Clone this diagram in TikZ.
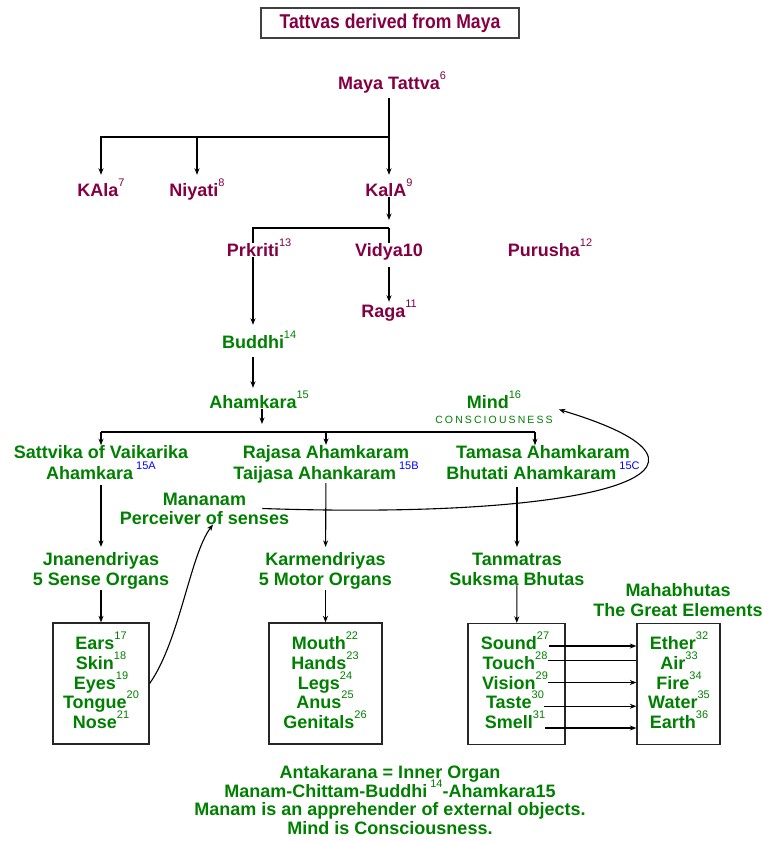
\documentclass[tikz,border=0pt]{standalone}
\usepackage{fontspec}
\setmainfont{Liberation Sans}
\newfontfamily\narrowfont[FakeStretch=0.88]{Liberation Sans}
\usepackage{xcolor}
\usetikzlibrary{arrows.meta, positioning, calc}
\definecolor{mayared}{RGB}{133,0,66}
\definecolor{tgreen}{RGB}{0,128,0}
\definecolor{supblue}{RGB}{0,0,255}
\newcommand{\sups}[1]{\smash{\raisebox{10pt}{\fontsize{11}{11}\selectfont\mdseries #1}}}
\newcommand{\rsups}[1]{\rlap{\sups{#1}}}
\newcommand{\bsups}[1]{\,\sups{\color{supblue}#1}}
\tikzset{
  lbl/.style={inner sep=0pt, font=\fontsize{18}{20}\selectfont\bfseries, text height=13pt, text depth=0pt},
  mlbl/.style={inner sep=0pt, font=\fontsize{18}{20}\selectfont\bfseries, align=center},
  mayatxt/.style={text=mayared},
  gunatxt/.style={text=tgreen},
  ln/.style={line width=1.1pt},
  arr/.style={ln, -{Stealth[length=6.5pt,width=5pt]}},
  organbox/.style={draw=black!85, line width=1.3pt, minimum width=#1, minimum height=121pt, inner sep=0pt}
}
\begin{document}
\begin{tikzpicture}[x=1pt, y=-1pt]
\useasboundingbox (0,0) rectangle (761,842);
\node[draw=black!75, line width=1.2pt, minimum width=258pt, minimum height=30pt, inner sep=0pt, text=mayared, font=\narrowfont\fontsize{20}{20}\selectfont\bfseries] (title) at (390,23) {Tattvas derived from Maya};

\node[lbl, mayatxt] (maya) at (389,83) {Maya Tattva\rsups{6}};
\node[lbl, mayatxt] (kala) at (101,190) {KAla\sups{7}};
\node[lbl, mayatxt] (niyati) at (197,190) {Niyati\sups{8}};
\node[lbl, mayatxt] (kalaa) at (389,190) {KalA\sups{9}};
\node[lbl, mayatxt] (prkriti) at (253,250) {Prkriti\rsups{13}};
\node[lbl, mayatxt] (vidya) at (389,250) {Vidya10};
\node[lbl, mayatxt] (purusha) at (550,250) {Purusha\sups{12}};
\node[lbl, mayatxt] (raga) at (389,311) {Raga\sups{11}};
\node[lbl, gunatxt] (buddhi) at (253,342) {Buddhi\rsups{14}};
\node[lbl, gunatxt] (ahamkara) at (253,402) {Ahamkara\rsups{15}};
\node[mlbl, gunatxt] (mind) at (494,409.5) {Mind\sups{16}\\[-5.5pt]{\fontsize{10.5}{12}\selectfont\mdseries\addfontfeature{LetterSpace=20}CONSCIOUSNESS}};

\node[mlbl, gunatxt] (sattvika) at (101,462.5) {Sattvika of Vaikarika\\[1pt]Ahamkara\bsups{15A}};
\node[mlbl, gunatxt] (rajasa) at (326,464) {Rajasa Ahamkaram\\[1pt]Taijasa Ahankaram\bsups{15B}};
\node[mlbl, gunatxt] (tamasa) at (543,462.5) {Tamasa Ahamkaram\\[1pt]Bhutati Ahamkaram\bsups{15C}};
\node[mlbl, gunatxt] (mananam) at (204.5,508.5) {Mananam\\[-1pt]Perceiver of senses};
\node[mlbl, gunatxt] (jnan) at (101,571) {Jnanendriyas\\5 Sense Organs};
\node[mlbl, gunatxt] (karm) at (325.5,571) {Karmendriyas\\5 Motor Organs};
\node[mlbl, gunatxt] (tanm) at (517,569) {Tanmatras\\Suksma Bhutas};
\node[mlbl, gunatxt] (maha) at (678,600) {Mahabhutas\\The Great Elements};

\node[organbox=96pt] (box1) at (101,683.5) {};
\node[organbox=113pt] (box2) at (325.5,683.5) {};
\node[organbox=97pt] (box3) at (516.5,684) {};
\node[organbox=83pt] (box4) at (678.5,684) {};
\foreach \name/\txt/\num [count=\i] in {ears/Ears/17, skin/Skin/18, eyes/Eyes/19, tongue/Tongue/20, nose/Nose/21}
  \node[lbl, gunatxt] (\name) at (101,{623.25+19.75*\i}) {\txt\sups{\num}};
\foreach \name/\txt/\num [count=\i] in {mouth/Mouth/22, hands/Hands/23, legs/Legs/24, anus/Anus/25, genitals/Genitals/26}
  \node[lbl, gunatxt] (\name) at (325,{623.25+19.75*\i}) {\txt\sups{\num}};
\foreach \name/\txt/\num [count=\i] in {sound/Sound/27, touch/Touch/28, vision/Vision/29, taste/Taste/30, smell/Smell/31}
  \node[lbl, gunatxt] (\name) at (515,{623.25+19.75*\i}) {\txt\sups{\num}};
\foreach \name/\txt/\num [count=\i] in {ether/Ether/32, air/Air/33, fire/Fire/34, water/Water/35, earth/Earth/36}
  \node[lbl, gunatxt] (\name) at (679,{623.25+19.75*\i}) {\txt\sups{\num}};

\node[mlbl, gunatxt, font=\fontsize{18}{18.7}\selectfont\bfseries] (note) at (390,800) {Antakarana = Inner Organ\\Manam-Chittam-Buddhi\,\sups{14}-Ahamkara15\\Manam is an apprehender of external objects.\\Mind is Consciousness.};

\coordinate (mj) at (389,137);
\coordinate (br) at (389,228);
\coordinate (hl) at (101,432);
\coordinate (hr) at (535,432);

\draw[ln, shorten <=8.5pt] (maya.south) -- (mj);
\draw[arr, shorten >=8.5pt] (mj) -| (kala.north);
\draw[arr, shorten >=8.5pt] (mj) -| (niyati.north);
\draw[arr, shorten >=8.5pt] (mj) -- (kalaa.north);
\draw[arr, shorten >=8pt] (kalaa) -- (br);
\draw[ln] (br) -| (prkriti.north);
\draw[ln] (br) -- (vidya.north);
\draw[arr, shorten >=10.5pt] (prkriti) -- (buddhi);
\draw[arr, shorten <=10.5pt, shorten >=2.5pt] (vidya) -- (raga);
\draw[arr, shorten <=8.5pt, shorten >=7.5pt] (buddhi) -- (ahamkara);
\draw[arr, shorten >=8pt] ([xshift=9pt]ahamkara.south) -- ([xshift=9pt]ahamkara.south |- hl);
\draw[ln] (hl) -- (hr);
\draw[arr] (hl) -- (sattvika.north);
\draw[arr] (rajasa.north |- hl) -- (rajasa.north);
\draw[arr] (hr) -- (hr |- tamasa.north);
\draw[arr, shorten <=5.5pt, shorten >=5.5pt] (sattvika) -- (jnan);
\draw[arr, shorten >=5.5pt] (rajasa) -- (karm);
\draw[arr, shorten <=7.5pt, shorten >=5.5pt] (tamasa.south -| tanm) -- (tanm);
\draw[arr] (jnan) -- (box1);
\draw[arr] (karm) -- (box2);
\draw[arr] (tanm) -- (box3);

\draw[arr] (box1.east) .. controls (180,640) and (190,555) .. ([xshift=8.5pt]mananam.south);
\draw[arr] ([xshift=-27pt]mananam.east) .. controls (600,520) and (760,470) .. ([xshift=6pt]mind.east);

\foreach \name/\dy in {sound/-3, vision/0, taste/-4, smell/-6}
  \draw[arr] ([yshift=\dy pt]\name.east) -- ([yshift=\dy pt]\name.east -| box4.west);
\draw[ln] ([yshift=2pt]touch.east) -- ([yshift=2pt]touch.east -| box4.west);
\end{tikzpicture}
\end{document}
